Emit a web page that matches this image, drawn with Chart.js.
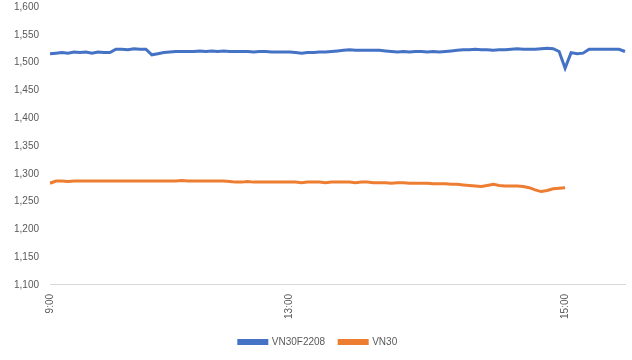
<!DOCTYPE html>
<html>
<head>
<meta charset="utf-8">
<script src="https://cdn.jsdelivr.net/npm/chart.js@4/dist/chart.umd.min.js"></script>
<style>
html,body{margin:0;padding:0;background:#fff;}
#wrap{width:632px;height:360px;}
</style>
</head>
<body>
<div id="wrap"><canvas id="c" width="632" height="360"></canvas></div>
<script>
const timeLabels = [
 '9:00','9:04','9:08','9:12','9:16','9:20','9:24','9:28','9:32','9:36','9:40','9:44','9:48','9:52','9:56',
 '10:00','10:04','10:08','10:12','10:16','10:20','10:24','10:28','10:32','10:36','10:40','10:44','10:48','10:52','10:56',
 '11:00','11:04','11:08','11:12','11:16','11:20','11:23','11:26','11:28','11:30',
 '13:00','13:03','13:05','13:08','13:10','13:13','13:16','13:18','13:21','13:23','13:26','13:29','13:31','13:34','13:36',
 '13:39','13:42','13:44','13:47','13:49','13:52','13:55','13:57','14:00','14:03','14:05','14:08','14:10','14:13','14:16',
 '14:18','14:21','14:23','14:26','14:29','14:31','14:34','14:36','14:39','14:42','14:44','14:47','14:49','14:52','14:55','14:57',
 '15:00','15:01','15:02','15:03','15:04','15:05','15:06','15:07','15:08','15:09','15:10'
];
const shownTicks = ['9:00','13:00','15:00'];
const vn30f2208 = [
 1516,1517,1518,1517,1519,1518,1519,1517,1519,1518,1518,1524,1524,1523,1525,1524,1524,1514,1516,1518,
 1519,1520,1520,1520,1520,1521,1520,1521,1520,1521,1520,1520,1520,1520,1519,1520,1520,1519,1519,1519,
 1519,1518,1517,1518,1518,1519,1519,1520,1521,1522,1523,1522,1522,1522,1522,1522,1521,1520,1519,1520,
 1519,1520,1520,1519,1520,1519,1520,1521,1522,1523,1523,1524,1523,1523,1522,1523,1523,1524,1525,1524,
 1524,1524,1525,1526,1525,1520,1490,1518,1516,1517,1524,1524,1524,1524,1524,1524,1520
];
const vn30 = [
 1283,1287,1287,1286,1287,1287,1287,1287,1287,1287,1287,1287,1287,1287,1287,1287,1287,1287,1287,1287,
 1287,1287,1288,1287,1287,1287,1287,1287,1287,1287,1286,1285,1285,1286,1285,1285,1285,1285,1285,1285,
 1285,1285,1284,1285,1285,1285,1284,1285,1285,1285,1285,1284,1285,1285,1284,1284,1284,1283,1284,1284,
 1283,1283,1283,1283,1282,1282,1282,1281,1281,1280,1279,1278,1277,1279,1281,1279,1278,1278,1278,1277,
 1275,1271,1268,1270,1273,1274,1275
];
const yMin = 1100, yMax = 1600, yStep = 50;

new Chart(document.getElementById('c'), {
  type: 'line',
  data: {
    labels: timeLabels,
    datasets: [
      {label:'VN30F2208', data: vn30f2208, borderColor:'#4472C4', backgroundColor:'#4472C4', borderWidth:3, pointRadius:0, tension:0},
      {label:'VN30', data: vn30, borderColor:'#ED7D31', backgroundColor:'#ED7D31', borderWidth:3, pointRadius:0, tension:0}
    ]
  },
  options: {
    responsive:false, animation:false, devicePixelRatio:1,
    layout:{padding:{top:0,right:7,left:11,bottom:3}},
    plugins:{
      tooltip:{enabled:false},
      legend:{position:'bottom', labels:{boxWidth:28, boxHeight:3, color:'#595959', font:{family:'Liberation Sans', size:10}, padding:14}}
    },
    scales:{
      x:{
        grid:{display:false},
        border:{display:true,color:'#d9d9d9',width:1},
        afterFit:function(s){s.height += 3; s.paddingRight = 0;},
        ticks:{autoSkip:false, maxRotation:90, minRotation:90, padding:1, color:'#595959', font:{family:'Liberation Sans', size:10},
          callback:function(v,i){const l=timeLabels[i]; return shownTicks.includes(l)?l:'';}}
      },
      y:{
        min:yMin, max:yMax,
        grid:{display:false},
        border:{display:false},
        afterFit:function(s){s.paddingTop = 7;},
        ticks:{stepSize:yStep, color:'#595959', font:{family:'Liberation Sans', size:10},
          callback:v=>v.toLocaleString('en-US')}
      }
    }
  }
});
</script>
</body>
</html>
